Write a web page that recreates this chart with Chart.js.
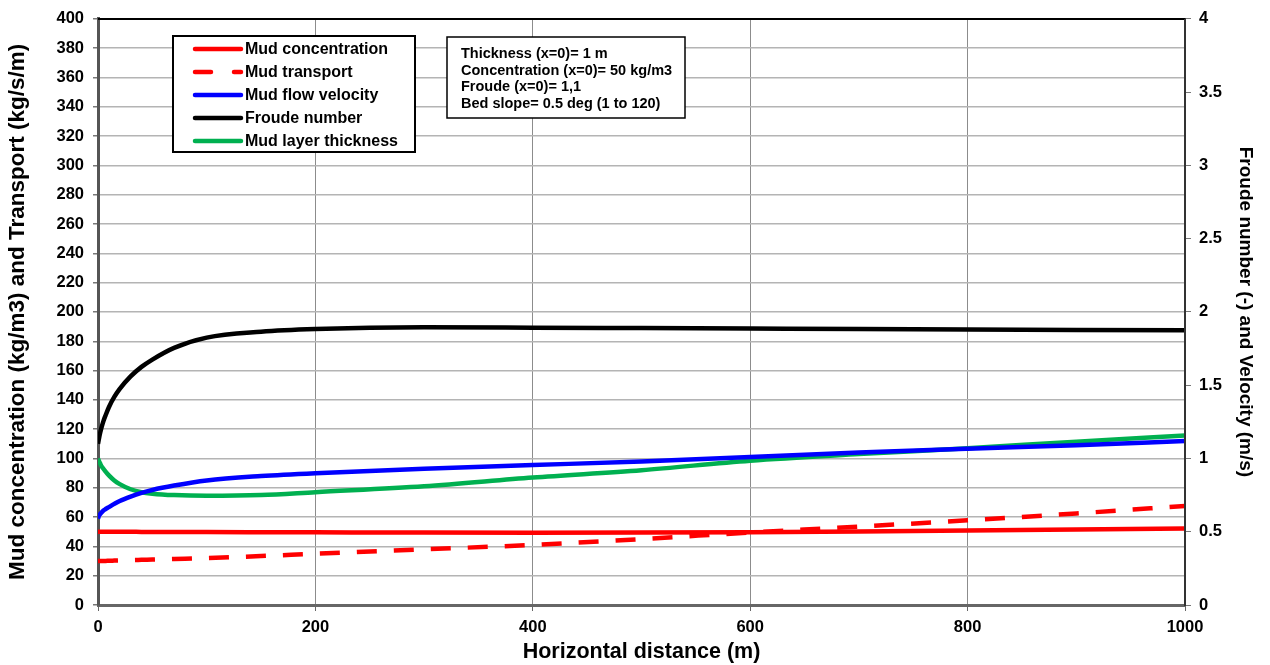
<!DOCTYPE html>
<html>
<head>
<meta charset="utf-8">
<script src="https://cdn.jsdelivr.net/npm/chart.js@4"></script>
<style>
  html, body { margin: 0; padding: 0; background: #fff; }
  #wrap { width: 1270px; height: 665px; }
</style>
</head>
<body>
<div id="wrap"><canvas id="mudChart" width="1270" height="665"></canvas></div>
<script>
// horizontal distance (m)
const distance = [0, 1, 2, 3, 5, 7, 10, 15, 20, 30, 40, 50, 70, 100, 150, 200, 300, 400, 500, 600, 700, 800, 900, 1000];

// left axis (kg/m3 and kg/s/m)
const mudConcentration = [50, 50, 50, 50, 50, 50, 50, 50, 50, 50, 49.9, 49.9, 49.9, 49.8, 49.7, 49.6, 49.4, 49.3, 49.4, 49.7, 50.2, 50.8, 51.5, 52.2];
const mudTransport = [30, 30, 30, 30, 30.1, 30.1, 30.2, 30.3, 30.4, 30.6, 30.8, 31, 31.4, 32, 33.4, 35, 38, 41, 45, 49.5, 53.5, 57.8, 62.5, 67.6];

// right axis (- and m/s, thickness in m)
const mudVelocity = [0.59, 0.61, 0.62, 0.63, 0.645, 0.655, 0.668, 0.69, 0.71, 0.74, 0.765, 0.785, 0.815, 0.85, 0.88, 0.9, 0.93, 0.955, 0.98, 1.01, 1.04, 1.066, 1.09, 1.12];
const froudeNumber = [1.1, 1.14, 1.175, 1.205, 1.255, 1.295, 1.35, 1.42, 1.475, 1.56, 1.625, 1.675, 1.755, 1.825, 1.865, 1.883, 1.895, 1.893, 1.89, 1.887, 1.884, 1.88, 1.877, 1.875];
const layerThickness = [1.0, 0.98, 0.965, 0.95, 0.93, 0.91, 0.885, 0.85, 0.825, 0.79, 0.77, 0.76, 0.75, 0.745, 0.75, 0.77, 0.81, 0.87, 0.92, 0.985, 1.03, 1.07, 1.115, 1.156];

const leftTicks = { min: 0, max: 400, step: 20 };
const rightTicks = { min: 0, max: 4, step: 0.5 };
const xTicks = { min: 0, max: 1000, step: 200 };

const infoLines = [
    'Thickness (x=0)= 1 m',
    'Concentration (x=0)= 50 kg/m3',
    'Froude (x=0)= 1,1',
    'Bed slope= 0.5 deg (1 to 120)'
];

const FONT = '"Liberation Sans", Arial, sans-serif';

function pts(values) {
    return distance.map((d, i) => ({ x: d, y: values[i] }));
}

const datasets = [
    { label: 'Mud concentration', data: pts(mudConcentration), borderColor: '#ff0000', yAxisID: 'y' },
    { label: 'Mud transport', data: pts(mudTransport), borderColor: '#ff0000', borderDash: [20, 17], yAxisID: 'y' },
    { label: 'Mud flow velocity', data: pts(mudVelocity), borderColor: '#0000ff', yAxisID: 'y1' },
    { label: 'Froude number', data: pts(froudeNumber), borderColor: '#000000', yAxisID: 'y1' },
    { label: 'Mud layer thickness', data: pts(layerThickness), borderColor: '#00b050', yAxisID: 'y1' }
];
datasets.forEach(ds => {
    ds.borderWidth = 4.5;
    ds.pointRadius = 0;
    ds.fill = false;
    ds.cubicInterpolationMode = 'monotone';
});

// legend box and info box inside the plot, plus the frame
const boxesPlugin = {
    id: 'boxes',
    afterDraw(chart) {
        const ctx = chart.ctx;
        const a = chart.chartArea;
        ctx.save();
        // frame top/right
        ctx.strokeStyle = '#000';
        ctx.lineWidth = 2;
        ctx.beginPath();
        ctx.moveTo(a.left, a.top);
        ctx.lineTo(a.right, a.top);
        ctx.stroke();
        ctx.strokeStyle = '#333';
        ctx.beginPath();
        ctx.moveTo(a.right, a.top);
        ctx.lineTo(a.right, a.bottom);
        ctx.stroke();

        // legend
        ctx.fillStyle = '#fff';
        ctx.fillRect(173, 36, 242, 116);
        ctx.strokeStyle = '#000';
        ctx.lineWidth = 2;
        ctx.strokeRect(173, 36, 242, 116);
        ctx.font = 'bold 16px ' + FONT;
        ctx.textBaseline = 'middle';
        chart.data.datasets.forEach((ds, i) => {
            const y = 49 + i * 23;
            ctx.strokeStyle = ds.borderColor;
            ctx.lineWidth = 4.5;
            ctx.lineCap = 'round';
            ctx.setLineDash(ds.borderDash ? [16, 23] : []);
            ctx.beginPath();
            ctx.moveTo(195, y);
            ctx.lineTo(241, y);
            ctx.stroke();
            ctx.setLineDash([]);
            ctx.fillStyle = '#000';
            ctx.fillText(ds.label, 245, y + 1);
        });

        // info box
        ctx.fillStyle = '#fff';
        ctx.fillRect(447, 37, 238, 81);
        ctx.strokeStyle = '#000';
        ctx.lineWidth = 1.5;
        ctx.strokeRect(447, 37, 238, 81);
        ctx.font = 'bold 14.5px ' + FONT;
        ctx.fillStyle = '#000';
        infoLines.forEach((t, i) => ctx.fillText(t, 461, 54 + i * 16.5));
        ctx.restore();
    }
};

const tickFont = { family: FONT, size: 16.5, weight: 'bold' };

const configChart = {
    type: 'line',
    data: { datasets: datasets },
    options: {
        responsive: false,
        animation: false,
        layout: { padding: { top: 17, right: 0, left: 0, bottom: 0 } },
        plugins: { legend: { display: false }, tooltip: { enabled: false } },
        scales: {
            x: {
                type: 'linear',
                min: xTicks.min,
                max: xTicks.max,
                ticks: { stepSize: xTicks.step, color: '#000', font: tickFont, padding: 7, callback: v => String(v) },
                grid: { color: '#8c8c8c', lineWidth: 1, tickLength: 6, tickColor: '#666' },
                border: { color: '#666', width: 3 },
                title: { display: true, text: 'Horizontal distance (m)', color: '#000', font: { family: FONT, size: 21.5, weight: 'bold' }, padding: { top: 0, bottom: 0 } },
                afterFit(scale) { scale.height = 60; }
            },
            y: {
                position: 'left',
                min: leftTicks.min,
                max: leftTicks.max,
                ticks: { stepSize: leftTicks.step, color: '#000', font: tickFont, padding: 9, callback: v => String(v) },
                grid: { color: '#b4b4b4', lineWidth: 1.5, tickLength: 5, tickColor: '#777' },
                border: { color: '#555', width: 3 },
                title: { display: true, text: 'Mud concentration (kg/m3) and Transport (kg/s/m)', color: '#000', font: { family: FONT, size: 22.5, weight: 'bold' }, padding: { bottom: 4, top: 4 } },
                afterFit(scale) { scale.width = 98; }
            },
            y1: {
                position: 'right',
                min: rightTicks.min,
                max: rightTicks.max,
                ticks: { stepSize: rightTicks.step, color: '#000', font: tickFont, padding: 8, callback: v => String(v) },
                grid: { drawOnChartArea: false, tickLength: 6, tickColor: '#777' },
                border: { color: '#333', width: 2 },
                title: { display: true, text: 'Froude number (-) and Velocity (m/s)', color: '#000', font: { family: FONT, size: 19, weight: 'bold' }, padding: { top: 13, bottom: 13 } },
                afterFit(scale) { scale.width = 85; }
            }
        }
    },
    plugins: [boxesPlugin]
};

let chart = new Chart(document.getElementById('mudChart'), configChart);
</script>
</body>
</html>
